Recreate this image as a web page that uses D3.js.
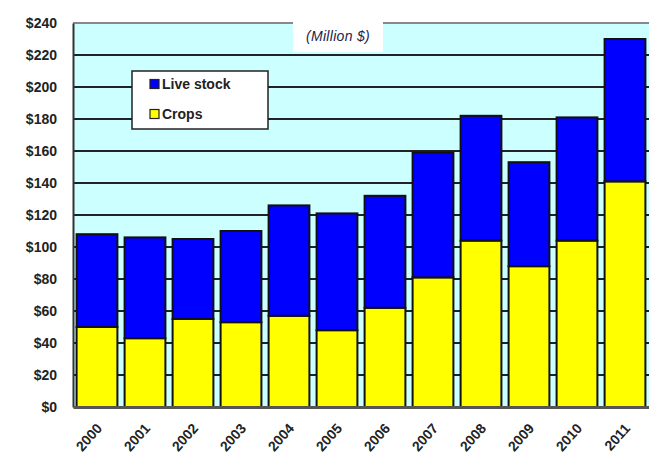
<!DOCTYPE html>
<html>
<head>
<meta charset="utf-8">
<script src="https://cdn.jsdelivr.net/npm/d3@7"></script>
<style>
  body { margin: 0; background: #fff; }
  text { font-family: "Liberation Sans", Arial, sans-serif; }
</style>
</head>
<body>
<svg id="chart" width="649" height="458"></svg>
<script>
let years = ["2000", "2001", "2002", "2003", "2004", "2005", "2006", "2007", "2008", "2009", "2010", "2011"]
let crops = [50, 43, 55, 53, 57, 48, 62, 81, 104, 88, 104, 141]
let livestock = [58, 63, 50, 57, 69, 73, 70, 78, 78, 65, 77, 89]
let y_ticks = [0, 20, 40, 60, 80, 100, 120, 140, 160, 180, 200, 220, 240]
let series = ["Crops", "Live stock"]
let colors = ["#ffff00", "#0000ff"]

let margin = {top: 23, right: 0, bottom: 51, left: 73}
let width = 649, height = 458

function make_scales() {
  return {
    x: d3.scaleBand()
      .domain(years)
      .range([margin.left, width - margin.right])
      .paddingInner(0.15)
      .paddingOuter(0.075),
    y: d3.scaleLinear()
      .domain([0, 240])
      .range([height - margin.bottom, margin.top])
  }
}

function draw_background(svg, scales) {
  svg.append("rect")
    .attr("x", margin.left)
    .attr("y", margin.top)
    .attr("width", width - margin.right - margin.left)
    .attr("height", scales.y(0) - margin.top)
    .attr("fill", "#ccffff")

  // gridlines
  svg.append("g")
    .selectAll("line")
    .data(y_ticks.filter(d => d > 0 && d < 240))
    .enter().append("line")
    .attr("x1", margin.left)
    .attr("x2", width - margin.right)
    .attr("y1", d => scales.y(d))
    .attr("y2", d => scales.y(d))
    .attr("stroke", "#222")
    .attr("stroke-width", 2)

  svg.append("line")
    .attr("x1", margin.left)
    .attr("x2", width)
    .attr("y1", scales.y(240))
    .attr("y2", scales.y(240))
    .attr("stroke", "#888")
    .attr("stroke-width", 2)
}

function draw_bars(svg, scales) {
  let table = years.map((y, i) => ({year: y, "Crops": crops[i], "Live stock": livestock[i]}))
  let stacked = d3.stack().keys(series)(table)

  svg.append("g")
    .selectAll("g")
    .data(stacked).enter()
    .append("g")
    .attr("fill", (d, i) => colors[i])
    .selectAll("rect")
    .data(d => d).enter()
    .append("rect")
    .attr("x", d => scales.x(d.data.year))
    .attr("width", scales.x.bandwidth())
    .attr("y", d => scales.y(d[1]))
    .attr("height", d => scales.y(d[0]) - scales.y(d[1]))
    .attr("stroke", "#111")
    .attr("stroke-width", 2)
}

function draw_axes(svg, scales) {
  let y_axis = d3.axisLeft(scales.y)
    .tickValues(y_ticks)
    .tickSize(0)
    .tickPadding(16)
    .tickFormat(d => "$" + d)
  let gy = svg.append("g")
    .attr("transform", `translate(${margin.left}, 0)`)
    .call(y_axis)
  gy.select(".domain").attr("stroke", "#333").attr("stroke-width", 2)
  gy.selectAll("text")
    .attr("font-size", 14)
    .attr("font-weight", "bold")
    .attr("fill", "#222")

  let x_axis = d3.axisBottom(scales.x).tickSize(0)
  let gx = svg.append("g")
    .attr("transform", `translate(0, ${scales.y(0)})`)
    .call(x_axis)
  gx.select(".domain").attr("stroke", "#555").attr("stroke-width", 3)
  gx.selectAll("text")
    .attr("font-size", 14)
    .attr("font-weight", "bold")
    .attr("fill", "#222")
    .attr("text-anchor", "end")
    .attr("dy", null)
    .attr("y", 0)
    .attr("transform", "translate(6, 22) rotate(-48)")
}

function draw_legend(svg) {
  let lg = svg.append("g").attr("transform", "translate(132, 71)")
  lg.append("rect")
    .attr("width", 136)
    .attr("height", 58)
    .attr("fill", "#fff")
    .attr("stroke", "#222")
    .attr("stroke-width", 1.5)
  let items = [{name: "Live stock", color: colors[1]}, {name: "Crops", color: colors[0]}]
  let it = lg.selectAll("g.item")
    .data(items).enter()
    .append("g")
    .attr("class", "item")
    .attr("transform", (d, i) => `translate(18, ${13 + i * 30})`)
  it.append("rect")
    .attr("width", 9)
    .attr("height", 9)
    .attr("y", -4.5)
    .attr("fill", d => d.color)
    .attr("stroke", "#222")
    .attr("stroke-width", 1.2)
  it.append("text")
    .attr("x", 12)
    .attr("dy", "0.35em")
    .attr("font-size", 14)
    .attr("font-weight", "bold")
    .attr("fill", "#222")
    .text(d => d.name)
}

function draw_unit(svg) {
  svg.append("rect")
    .attr("x", 293)
    .attr("y", 20)
    .attr("width", 90)
    .attr("height", 32)
    .attr("fill", "#fff")
  svg.append("text")
    .attr("x", 338)
    .attr("y", 41)
    .attr("text-anchor", "middle")
    .attr("font-size", 14)
    .attr("letter-spacing", 0.3)
    .attr("font-style", "italic")
    .attr("fill", "#22224a")
    .text("(Million $)")
}

function visualize() {
  let svg = d3.select("#chart")
  let scales = make_scales()
  draw_background(svg, scales)
  draw_unit(svg)
  draw_bars(svg, scales)
  draw_axes(svg, scales)
  draw_legend(svg)
}

visualize()
</script>
</body>
</html>
